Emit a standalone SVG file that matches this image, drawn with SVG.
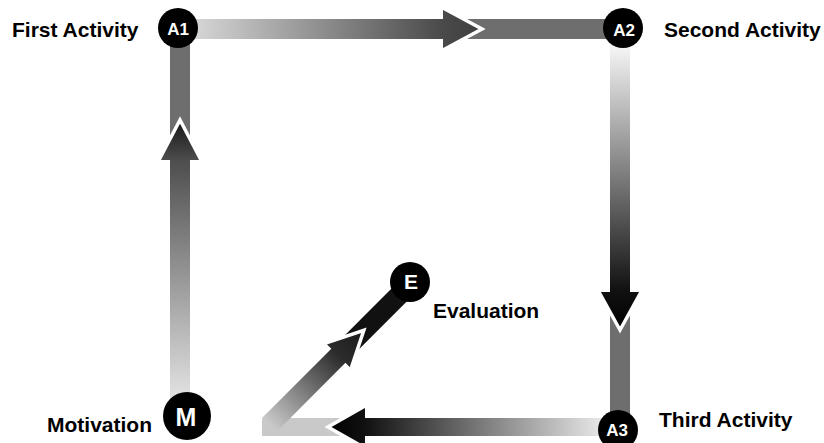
<svg xmlns="http://www.w3.org/2000/svg" width="824" height="443" viewBox="0 0 824 443">
<defs>
<linearGradient id="gTop" gradientUnits="userSpaceOnUse" x1="198" y1="0" x2="482" y2="0">
<stop offset="0" stop-color="#d4d4d4"/><stop offset="0.86" stop-color="#4a4a4a"/><stop offset="1" stop-color="#3e3e3e"/>
</linearGradient>
<linearGradient id="gLeft" gradientUnits="userSpaceOnUse" x1="0" y1="392" x2="0" y2="120">
<stop offset="0" stop-color="#dedede"/><stop offset="0.85" stop-color="#4e4e4e"/><stop offset="1" stop-color="#151515"/>
</linearGradient>
<linearGradient id="gRight" gradientUnits="userSpaceOnUse" x1="0" y1="50" x2="0" y2="330">
<stop offset="0" stop-color="#f2f2f2"/><stop offset="0.86" stop-color="#111111"/><stop offset="1" stop-color="#000000"/>
</linearGradient>
<linearGradient id="gBottom" gradientUnits="userSpaceOnUse" x1="600" y1="0" x2="328" y2="0">
<stop offset="0" stop-color="#e6e6e6"/><stop offset="0.86" stop-color="#121212"/><stop offset="1" stop-color="#000000"/>
</linearGradient>
<linearGradient id="gDiag" gradientUnits="userSpaceOnUse" x1="0" y1="0" x2="134" y2="0">
<stop offset="0" stop-color="#cbcbcb"/><stop offset="0.73" stop-color="#2c2c2c"/><stop offset="1" stop-color="#1a1a1a"/>
</linearGradient>
</defs>
<style>
.seg{fill:#6e6e6e}
.notch{fill:none;stroke:#ffffff;stroke-width:3.5;stroke-linejoin:miter}
.node{fill:#000000}
.nl{fill:#ffffff;font-family:"Liberation Sans",Arial,sans-serif;font-weight:bold;text-anchor:middle}
.lbl{fill:#000000;font-family:"Liberation Sans",Arial,sans-serif;font-weight:bold;font-size:21px}
</style>
<rect width="824" height="443" fill="#ffffff"/>
<g id="connectors">
<rect class="seg" x="463" y="19" width="161" height="20"/>
<path d="M178,19 H443 V8 L482,29 L443,50 V39 H178 Z" fill="url(#gTop)"/>
<path class="notch" d="M443,8 L482,29 L443,50"/>
<rect class="seg" x="170" y="28" width="20" height="111"/>
<path d="M170,416 V160 H159 L180,120 L201,160 H190 V416 Z" fill="url(#gLeft)"/>
<path class="notch" d="M159,160 L180,120 L201,160"/>
<rect class="seg" x="610" y="311" width="20" height="120"/>
<path d="M610,28 V292 H599 L620,330 L641,292 H630 V28 Z" fill="url(#gRight)"/>
<path class="notch" d="M599,292 L620,330 L641,292"/>
<rect x="262" y="418" width="84" height="18" fill="#c9c9c9"/>
<path d="M619,418 H365 V406 L328,427 L365,448 V436 H619 Z" fill="url(#gBottom)"/>
<path class="notch" d="M365,406 L328,427 L365,448"/>
<g transform="translate(269.07,425.07) rotate(-45)">
<rect x="114" y="-10" width="88" height="20" fill="#111111"/>
<path d="M0,-10 H98 V-18 L134,0 L98,18 V10 H0 Z" fill="url(#gDiag)"/>
<path class="notch" d="M98,-18 L134,0 L98,18"/>
</g>
</g>
<g id="node-A1">
<circle class="node" cx="178" cy="28" r="20"/>
<text class="nl" x="178" y="35" font-size="17">A1</text>
<text class="lbl" x="12" y="37">First Activity</text>
</g>
<g id="node-A2">
<circle class="node" cx="623" cy="28" r="20"/>
<text class="nl" x="624" y="36" font-size="17">A2</text>
<text class="lbl" x="664" y="37">Second Activity</text>
</g>
<g id="node-A3">
<circle class="node" cx="618" cy="430" r="20"/>
<text class="nl" x="617" y="436" font-size="17">A3</text>
<text class="lbl" x="659" y="427">Third Activity</text>
</g>
<g id="node-M">
<circle class="node" cx="187" cy="416" r="24"/>
<text class="nl" x="186" y="426" font-size="25">M</text>
<text class="lbl" x="47" y="432">Motivation</text>
</g>
<g id="node-E">
<circle class="node" cx="410" cy="282" r="20"/>
<text class="nl" x="411" y="289" font-size="21">E</text>
<text class="lbl" x="433" y="318">Evaluation</text>
</g>
</svg>
